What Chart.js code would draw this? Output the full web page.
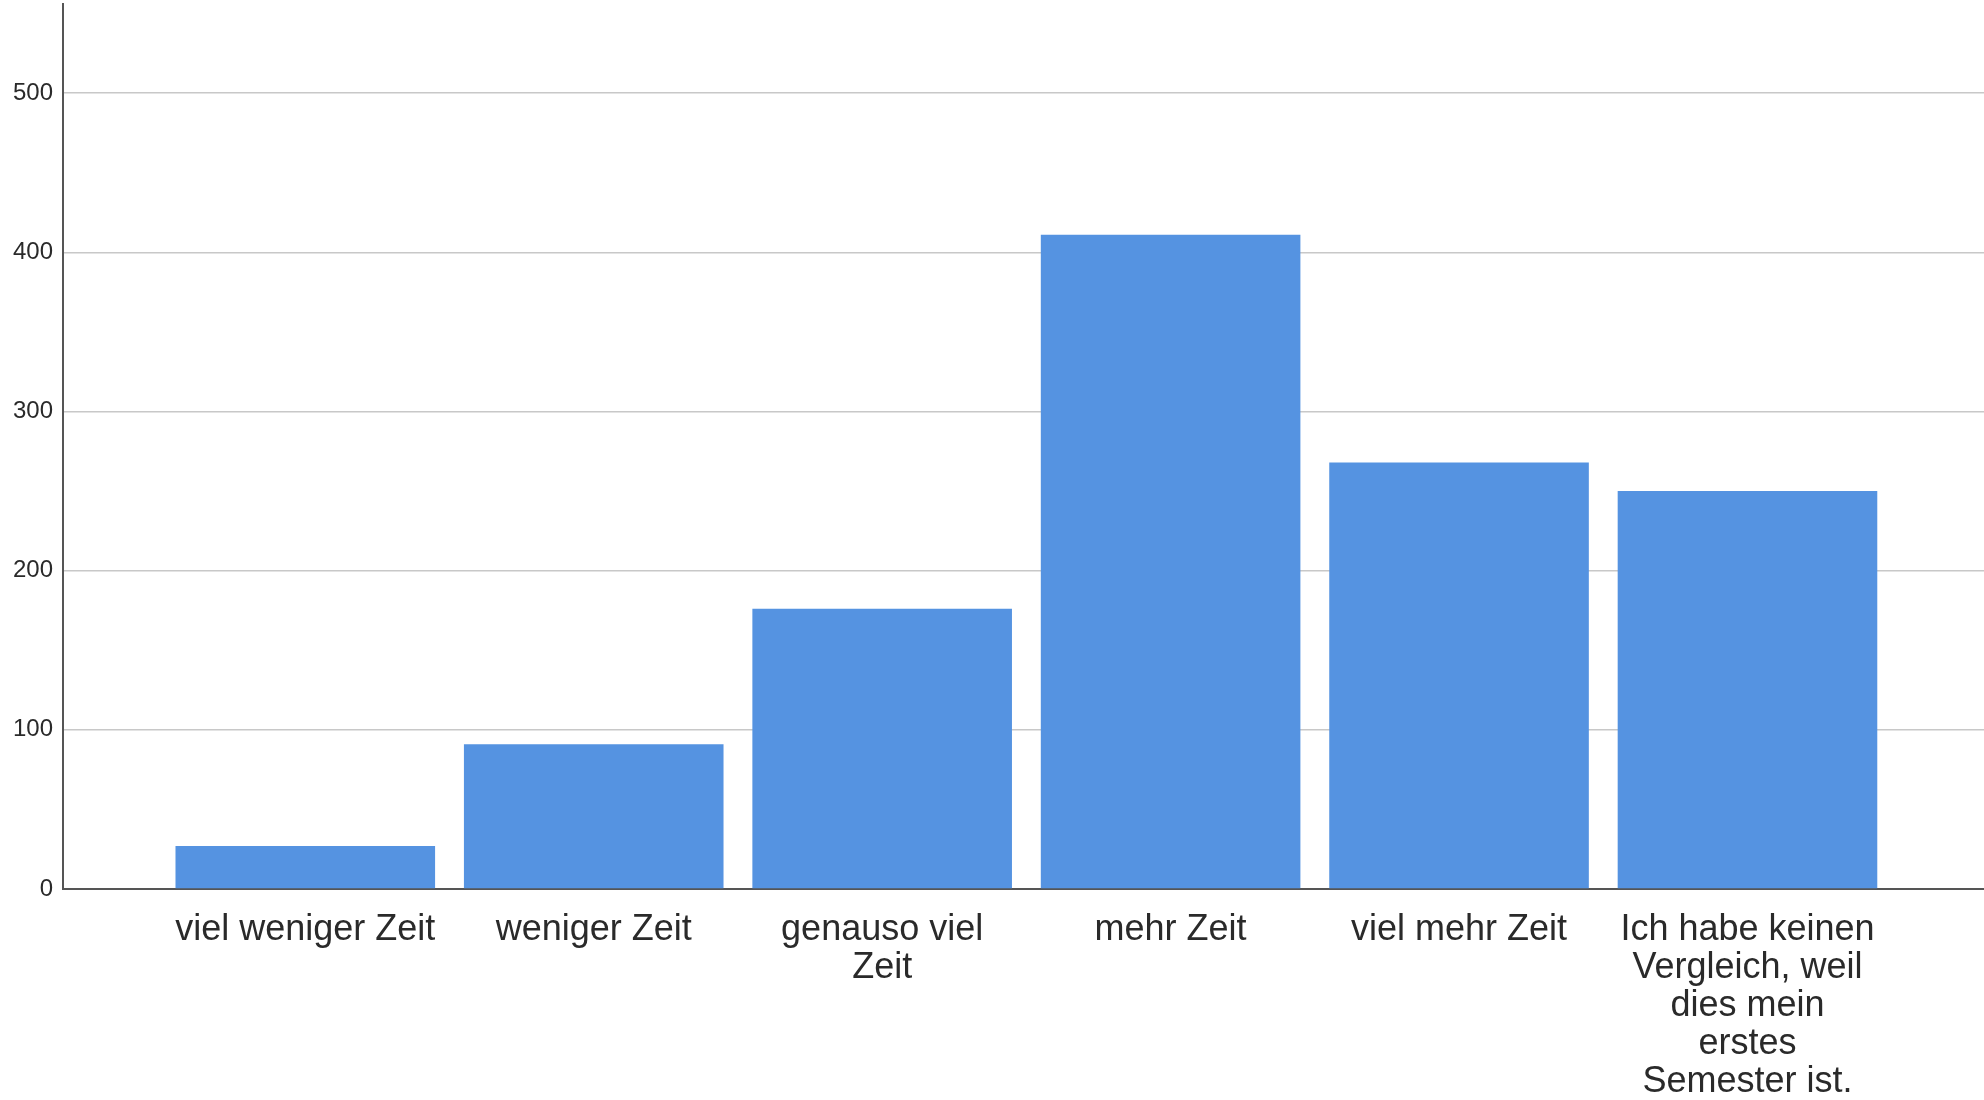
<!DOCTYPE html>
<html>
<head>
<meta charset="utf-8">
<script src="https://cdn.jsdelivr.net/npm/chart.js@4.4.1/dist/chart.umd.min.js"></script>
<style>
  html, body { margin: 0; padding: 0; background: #fff; }
  #wrap { width: 1984px; height: 1100px; }
</style>
</head>
<body>
<div id="wrap"><canvas id="chart" width="1984" height="1100"></canvas></div>
<script>
// Categories (line breaks as in the original chart)
const categories = [
    'viel weniger Zeit',
    'weniger Zeit',
    ['genauso viel', 'Zeit'],
    'mehr Zeit',
    'viel mehr Zeit',
    ['Ich habe keinen', 'Vergleich, weil', 'dies mein', 'erstes', 'Semester ist.']
];

// Counts
const counts = [27, 91, 176, 411, 268, 250];

// Y axis ticks
const yTicks = [0, 100, 200, 300, 400, 500];
const yMax = 556;

const barColor = '#5593e1';
const fontFamily = "'Liberation Sans', Arial, sans-serif";

const ctx = document.getElementById('chart').getContext('2d');

new Chart(ctx, {
    type: 'bar',
    data: {
        datasets: [
            {
                label: 'Anzahl',
                data: counts.map((v, i) => ({ x: i, y: v })),
                backgroundColor: barColor,
                borderWidth: 0,
                categoryPercentage: 1,
                barPercentage: 0.9
            }
        ]
    },
    options: {
        responsive: false,
        animation: false,
        layout: { padding: { top: 4, left: 0, right: 0, bottom: 0 } },
        plugins: {
            legend: { display: false },
            tooltip: { enabled: false }
        },
        scales: {
            x: {
                type: 'linear',
                offset: false,
                min: -0.84,
                max: 5.82,
                afterBuildTicks: (axis) => {
                    axis.ticks = categories.map((c, i) => ({ value: i }));
                },
                afterFit: (axis) => {
                    axis.height = 211;
                    axis.paddingLeft = 0;
                    axis.paddingRight = 0;
                },
                grid: { display: false, drawTicks: false },
                border: { display: true, color: '#555555', width: 2 },
                ticks: {
                    autoSkip: false,
                    maxRotation: 0,
                    minRotation: 0,
                    padding: 22,
                    color: '#2a2a2a',
                    font: { family: fontFamily, size: 36, lineHeight: '38px' },
                    callback: (value) => categories[value]
                }
            },
            y: {
                min: 0,
                max: yMax,
                afterBuildTicks: (axis) => {
                    axis.ticks = yTicks.map(v => ({ value: v }));
                },
                afterFit: (axis) => {
                    axis.width = 63;
                    axis.paddingTop = 0;
                    axis.paddingBottom = 0;
                },
                grid: { color: '#c8c8c8', lineWidth: 1.5, drawTicks: false },
                border: { display: true, color: '#555555', width: 2 },
                ticks: {
                    padding: 10,
                    color: '#2a2a2a',
                    font: { family: fontFamily, size: 24 }
                }
            }
        }
    }
});
</script>
</body>
</html>
